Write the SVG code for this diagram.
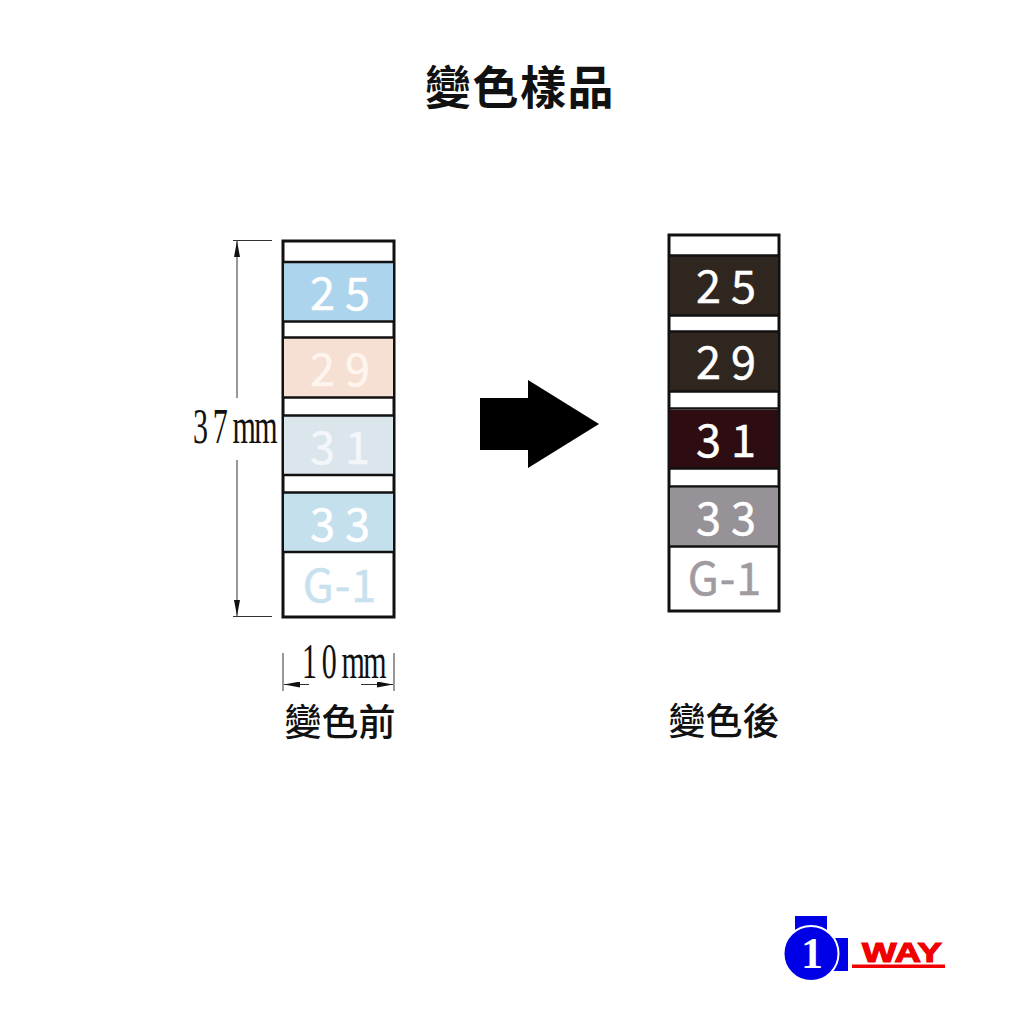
<svg xmlns="http://www.w3.org/2000/svg" width="1024" height="1024" viewBox="0 0 1024 1024">
<defs>
<marker id="ah" markerWidth="16" markerHeight="6" refX="16" refY="3" orient="auto-start-reverse" markerUnits="userSpaceOnUse" viewBox="0 0 16 6"><path d="M0 0L16 3L0 6Z" fill="#111"/></marker>
</defs>
<style>
.cjk{font-family:"Noto Sans CJK TC","Noto Sans CJK SC",sans-serif;font-weight:500;fill:#111}
.n{font-family:"Noto Sans CJK TC","Noto Sans",sans-serif;font-size:45px;font-weight:400;text-anchor:middle;letter-spacing:10px;stroke-width:.5px}
.g{font-family:"Noto Sans CJK TC","Noto Sans",sans-serif;font-size:45px;font-weight:400;text-anchor:middle;letter-spacing:1px;stroke-width:.5px}
.d{font-family:"Liberation Serif",serif;fill:#111;font-size:50px}
.frame{fill:#fff;stroke:#111;stroke-width:3}
.sep{stroke:#111;stroke-width:2.5;fill:none}
.dim{stroke:#333;stroke-width:1;fill:none}
</style>
<rect width="1024" height="1024" fill="#fff"/>
<text class="cjk" x="520" y="104" font-size="46" text-anchor="middle" style="font-weight:700;letter-spacing:1.5px">變色樣品</text>

<g id="sample-before">
<rect class="frame" x="283" y="241" width="111" height="376"/>
<rect x="284" y="263" width="109" height="58" fill="#acd4ec"/>
<rect x="284" y="338" width="109" height="59" fill="#f5e0d3"/>
<rect x="284" y="416" width="109" height="59" fill="#dbe5ec"/>
<rect x="284" y="493" width="109" height="58" fill="#c5e0ed"/>
<path class="sep" d="M283 262H394M283 321.500H394M283 337.500H394M283 397.500H394M283 415.500H394M283 475H394M283 492.500H394M283 552H394"/>
<text class="n" x="345" y="310" fill="#fff" stroke="#fff">25</text>
<text class="n" x="345" y="386" fill="#fff5ee" stroke="#fff5ee">29</text>
<text class="n" x="345" y="464" fill="#f3f7fa" stroke="#f3f7fa">31</text>
<text class="n" x="345" y="541" fill="#fff" stroke="#fff">33</text>
<text class="g" x="340" y="602" fill="#c8e1ee" stroke="#c8e1ee">G-1</text>
</g>

<g id="sample-after">
<rect class="frame" x="669" y="235" width="110" height="376"/>
<rect x="670" y="256" width="108" height="59" fill="#302620"/>
<rect x="670" y="332" width="108" height="59" fill="#302620"/>
<rect x="670" y="410" width="108" height="58" fill="#2e0d12"/>
<rect x="670" y="488" width="108" height="58" fill="#979298"/>
<path class="sep" d="M669 255.500H779M669 315.500H779M669 331.500H779M669 391.500H779M669 408.500H779M669 468.500H779M669 486.500H779M669 546.500H779"/>
<text class="n" x="731" y="303" fill="#fff" stroke="#fff">25</text>
<text class="n" x="731" y="379" fill="#fff" stroke="#fff">29</text>
<text class="n" x="731" y="457" fill="#fff" stroke="#fff">31</text>
<text class="n" x="731" y="535" fill="#fff" stroke="#fff">33</text>
<text class="g" x="725" y="595" fill="#a09ba1" stroke="#a09ba1">G-1</text>
</g>

<g id="arrow">
<path d="M480 398H528V380L599 424L528 468V450H480Z" fill="#000"/>
</g>

<g id="connectors">
<path class="dim" d="M233 240.500H272M233 616.500H272M283 653V691M394 653V691"/>
<path class="dim" d="M237 398V241" marker-end="url(#ah)"/>
<path class="dim" d="M237 460V616" marker-end="url(#ah)"/>
<path class="dim" d="M309 684.500H284" marker-end="url(#ah)"/>
<path class="dim" d="M361 684.500H393" marker-end="url(#ah)"/>
</g>

<g id="labels">
<text class="d" transform="translate(193 443) scale(.6 1)"><tspan letter-spacing="8">37</tspan><tspan letter-spacing="-3">mm</tspan></text>
<text class="d" transform="translate(302 678) scale(.6 1)"><tspan letter-spacing="8">10</tspan><tspan letter-spacing="-3">mm</tspan></text>
<text class="cjk" x="340" y="736" font-size="37" text-anchor="middle">變色前</text>
<text class="cjk" x="724" y="735" font-size="37" text-anchor="middle">變色後</text>
</g>

<g id="logo">
<rect x="795" y="916" width="32" height="20" fill="#0000e6"/>
<rect x="828" y="938" width="20" height="33" fill="#0000e6"/>
<circle cx="811" cy="953.500" r="27.500" fill="#0000e6" stroke="#fff" stroke-width="2"/>
<text x="812" y="968" font-family="Liberation Serif,serif" font-size="44" font-weight="700" fill="#fff" text-anchor="middle">1</text>
<text x="862" y="962" font-family="Liberation Sans,sans-serif" font-size="28" font-weight="700" fill="#f00000" stroke="#f00000" stroke-width="1.200" textLength="80" lengthAdjust="spacingAndGlyphs">WAY</text>
<rect x="852" y="964.500" width="93" height="3.500" fill="#f00000"/>
</g>
</svg>
